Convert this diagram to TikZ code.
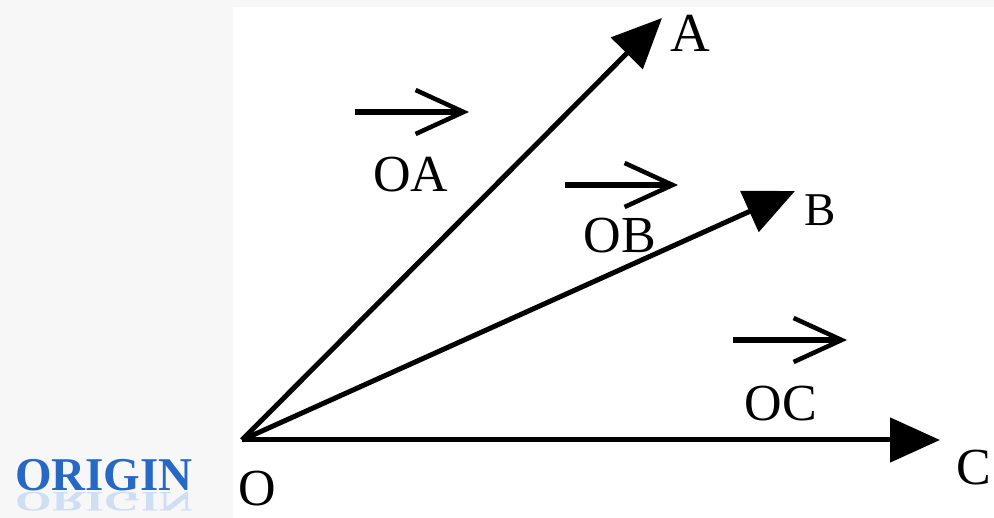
\documentclass[tikz,border=0pt]{standalone}
\usepackage{fontspec}
\setmainfont{Liberation Serif}
\usepackage{tikz}
\usetikzlibrary{arrows.meta,positioning}

\definecolor{origblu}{RGB}{38,104,196}

\begin{document}
\begin{tikzpicture}[
  x=1pt, y=-1pt,
  lab/.style={inner sep=0pt, font=\fontsize{52}{60}\selectfont},
  vett/.style={line width=5pt, -{Triangle[length=50pt,width=44pt]}},
  freccia/.style={line width=5.5pt, -{Straight Barb[length=48pt,width=44pt,line width=4.5pt]}}
]
  \useasboundingbox (0,0) rectangle (994,518);
  % sfondo
  \fill[gray!6] (0,0) rectangle (994,518);
  \fill[white] (233,7) rectangle (994,518);

  % punti
  \coordinate (o) at (242,440);
  \coordinate (a) at (662,18);
  \coordinate (b) at (795,191);
  \coordinate (c) at (940,440);

  % vettori
  \draw[vett] (o) -- (a);
  \draw[vett] (o) -- (b);
  \draw[vett] (o) -- (c);

  % etichette dei punti
  \node[lab] (labO) at (257,489) {O};
  \node[lab, font=\fontsize{55}{60}\selectfont] (labA) at (690,33) {A};
  \node[lab, font=\fontsize{47}{60}\selectfont] (labB) at (820,210) {B};
  \node[lab] (labC) at (974,468) {C};

  % nomi dei vettori
  \node[lab] (labOA) at (411,175) {OA};
  \node[lab] (labOB) at (620,236) {OB};
  \node[lab] (labOC) at (781,404) {OC};

  \coordinate (oa1) at (355,112);
  \coordinate (oa2) at (469,112);
  \coordinate (ob1) at (565,185);
  \coordinate (ob2) at (678,185);
  \coordinate (oc1) at (733,340);
  \coordinate (oc2) at (847,340);
  \draw[freccia] (oa1) -- (oa2);
  \draw[freccia] (ob1) -- (ob2);
  \draw[freccia] (oc1) -- (oc2);

  % titolo
  \node[inner sep=0pt, text=origblu, font=\fontsize{47}{56}\bfseries] (origin) at (104,475) {ORIGIN};
  \node[inner sep=0pt, text=origblu!22, yscale=-0.6, font=\fontsize{47}{56}\bfseries] (originR) at (104,502) {ORIGIN};
\end{tikzpicture}
\end{document}
